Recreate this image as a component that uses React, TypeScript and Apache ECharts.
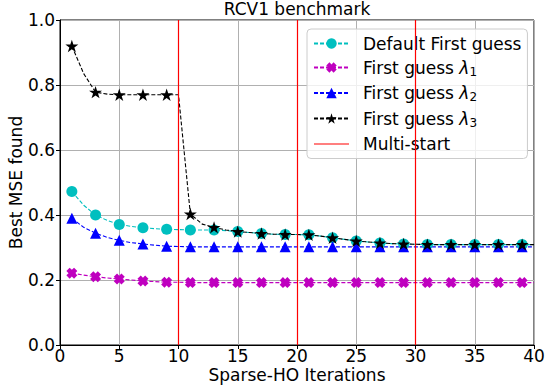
import React, { useEffect, useRef } from "react";
import * as echarts from "echarts";

const iterations = [1, 2, 3, 4, 5, 6, 7, 8, 9, 10, 11, 12, 13, 14, 15, 16, 17, 18, 19, 20, 21, 22, 23, 24, 25, 26, 27, 28, 29, 30, 31, 32, 33, 34, 35, 36, 37, 38, 39, 40];

const defaultGuess = [0.472, 0.43, 0.4, 0.383, 0.371, 0.365, 0.361, 0.358, 0.356, 0.355, 0.354, 0.354, 0.354, 0.352, 0.349, 0.346, 0.343, 0.341, 0.34, 0.34, 0.339, 0.335, 0.33, 0.325, 0.32, 0.317, 0.314, 0.312, 0.311, 0.31, 0.309, 0.309, 0.309, 0.309, 0.309, 0.309, 0.309, 0.309, 0.309, 0.309];

const guessLambda1 = [0.221, 0.215, 0.21, 0.206, 0.203, 0.2, 0.197, 0.195, 0.193, 0.193, 0.192, 0.192, 0.192, 0.192, 0.192, 0.192, 0.192, 0.192, 0.192, 0.192, 0.192, 0.192, 0.192, 0.192, 0.192, 0.192, 0.192, 0.192, 0.192, 0.192, 0.192, 0.192, 0.192, 0.192, 0.192, 0.192, 0.192, 0.192, 0.192, 0.192];

const guessLambda2 = [0.39, 0.362, 0.344, 0.331, 0.322, 0.315, 0.311, 0.307, 0.304, 0.303, 0.302, 0.302, 0.302, 0.302, 0.302, 0.302, 0.302, 0.302, 0.302, 0.302, 0.302, 0.302, 0.302, 0.302, 0.302, 0.302, 0.302, 0.302, 0.302, 0.302, 0.302, 0.302, 0.302, 0.302, 0.302, 0.302, 0.302, 0.302, 0.302, 0.302];

const guessLambda3 = [0.92, 0.835, 0.778, 0.772, 0.77, 0.77, 0.77, 0.77, 0.77, 0.77, 0.403, 0.372, 0.362, 0.354, 0.349, 0.346, 0.343, 0.341, 0.34, 0.34, 0.339, 0.335, 0.33, 0.325, 0.32, 0.317, 0.314, 0.312, 0.311, 0.31, 0.309, 0.309, 0.309, 0.309, 0.309, 0.309, 0.309, 0.309, 0.309, 0.309];

const multiStarts = [10, 20, 30];

const seriesNames = ["Default First guess", "First guess λ1", "First guess λ2", "First guess λ3", "Multi-start"];

const FONT = "DejaVu Sans";
const STAR = "path://M50,0 L61.23,34.55 L97.55,34.55 L68.16,55.9 L79.39,90.45 L50,69.1 L20.61,90.45 L31.84,55.9 L2.45,34.55 L38.77,34.55 Z";
const XMARK = "path://M3,0 L5,2 L7,0 L10,3 L8,5 L10,7 L7,10 L5,8 L3,10 L0,7 L2,5 L0,3 Z";
const REDLINE_ICON = "path://M0,0 L35,0 L35,1.2 L0,1.2 Z";

function buildData(values: number[]) {
  return iterations.map((x, i) =>
    x % 2 === 1 ? { value: [x, values[i]] } : { value: [x, values[i]], symbol: "none" }
  );
}

function lineSeries(name: string, values: number[], color: string, symbol: string, size: number) {
  return {
    name,
    type: "line",
    data: buildData(values),
    symbol,
    symbolSize: size,
    symbolKeepAspect: true,
    showAllSymbol: true,
    itemStyle: { color, borderColor: color, borderWidth: 0 },
    lineStyle: { color, width: 1.1, type: [4, 2] },
    emphasis: { disabled: true },
  };
}

export default function App() {
  const ref = useRef<HTMLDivElement>(null);
  useEffect(() => {
    document.body.style.margin = "0";
    const chart = echarts.init(ref.current!, null, { renderer: "svg" });
    const option = {
      animation: false,
      textStyle: { fontFamily: FONT },
      title: {
        text: "RCV1 benchmark",
        left: 297,
        textAlign: "center",
        top: 0,
        padding: 0,
        textStyle: { fontFamily: FONT, fontSize: 17, fontWeight: "normal", color: "#000" },
      },
      grid: {
        left: 60,
        right: 11,
        top: 20,
        bottom: 40,
        show: true,
        borderColor: "#000",
        borderWidth: 1,
        backgroundColor: "transparent",
        containLabel: false,
        outerBoundsMode: "none",
      },
      legend: {
        data: [
          seriesNames[0],
          seriesNames[1],
          seriesNames[2],
          seriesNames[3],
          { name: seriesNames[4], icon: REDLINE_ICON },
        ],
        orient: "vertical",
        left: 307,
        top: 29,
        padding: [6, 6, 6, 6],
        itemWidth: 35,
        itemHeight: 13,
        itemGap: 7,
        backgroundColor: "rgba(255,255,255,0.8)",
        borderColor: "#cccccc",
        borderWidth: 1,
        borderRadius: 4,
        formatter: (name: string) => {
          const m = name.match(/^(.*)λ(\d)$/);
          if (m) return `{t|${m[1]}}{l|λ}{s|${m[2]}}`;
          return `{t|${name}}`;
        },
        textStyle: {
          fontFamily: FONT,
          fontSize: 17,
          color: "#000",
          padding: [0, 0, 0, 9],
          rich: {
            t: { fontFamily: FONT, fontSize: 17, lineHeight: 20, color: "#000" },
            l: { fontFamily: FONT, fontSize: 17, lineHeight: 20, fontStyle: "italic", color: "#000" },
            s: { fontFamily: FONT, fontSize: 12, lineHeight: 12, verticalAlign: "bottom", color: "#000" },
          },
        },
      },
      xAxis: {
        type: "value",
        min: 0,
        max: 40,
        interval: 5,
        name: "Sparse-HO Iterations",
        nameLocation: "middle",
        nameGap: 21,
        nameMoveOverlap: false,
        nameTextStyle: { fontFamily: FONT, fontSize: 17, lineHeight: 17, color: "#000", verticalAlign: "top" },
        axisLine: { show: true, lineStyle: { color: "#000", width: 1 } },
        axisTick: { show: true, length: 4, lineStyle: { color: "#000" } },
        axisLabel: { fontFamily: FONT, fontSize: 17, lineHeight: 14, color: "#000", margin: 4 },
        splitLine: { show: true, lineStyle: { color: "#b0b0b0", width: 1 } },
      },
      yAxis: {
        type: "value",
        min: 0,
        max: 1,
        interval: 0.2,
        name: "Best MSE found",
        nameLocation: "middle",
        nameGap: 36,
        nameMoveOverlap: false,
        nameTextStyle: { fontFamily: FONT, fontSize: 17, color: "#000" },
        axisLine: { show: true, lineStyle: { color: "#000", width: 1 } },
        axisTick: { show: true, length: 4, lineStyle: { color: "#000" } },
        axisLabel: { fontFamily: FONT, fontSize: 17, color: "#000", margin: 5, formatter: (v: number) => v.toFixed(1) },
        splitLine: { show: true, lineStyle: { color: "#b0b0b0", width: 1 } },
      },
      series: [
        {
          name: "Multi-start",
          type: "line",
          data: [],
          symbol: "none",
          itemStyle: { color: "#ff0000" },
          lineStyle: { color: "#ff0000", width: 1.2, type: "solid" },
          markLine: {
            silent: true,
            symbol: ["none", "none"],
            label: { show: false },
            lineStyle: { color: "#ff0000", width: 1.2, type: "solid" },
            data: multiStarts.map((x) => ({ xAxis: x })),
          },
        },
        lineSeries(seriesNames[0], defaultGuess, "#00bfbf", "circle", 11),
        lineSeries(seriesNames[1], guessLambda1, "#bf00bf", XMARK, 11),
        lineSeries(seriesNames[2], guessLambda2, "#0000ff", "triangle", 11),
        lineSeries(seriesNames[3], guessLambda3, "#000000", STAR, 13),
      ],
    };
    chart.setOption(option as any);
    return () => chart.dispose();
  }, []);
  return <div ref={ref} style={{ width: 545, height: 385 }} />;
}
